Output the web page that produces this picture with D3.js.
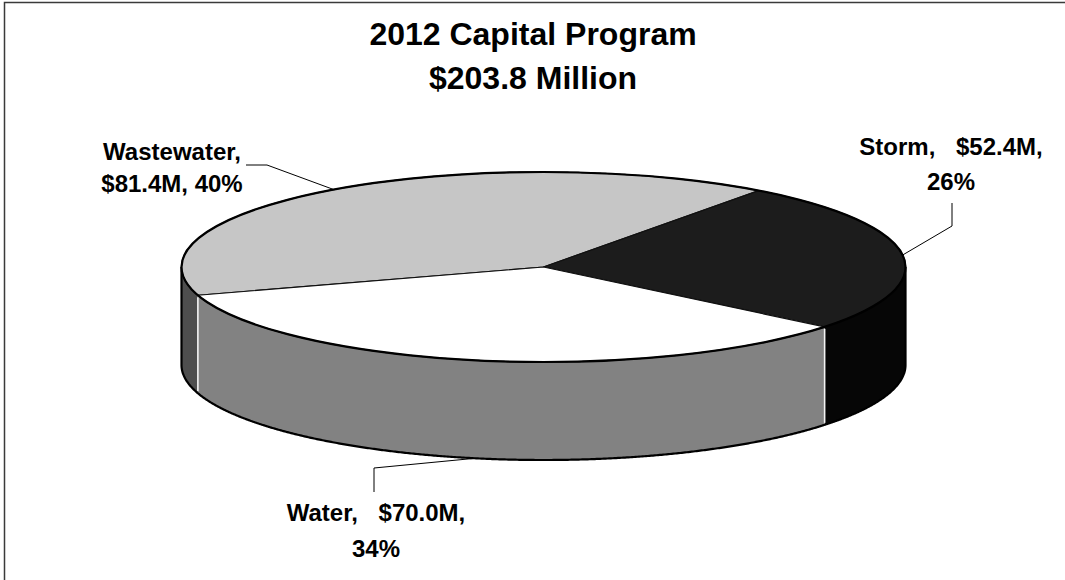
<!DOCTYPE html>
<html>
<head>
<meta charset="utf-8">
<script src="https://cdn.jsdelivr.net/npm/d3@7"></script>
<style>
  html, body { margin: 0; padding: 0; background: #fff; }
  svg { display: block; }
  text { font-family: "Liberation Sans", Arial, sans-serif; font-weight: bold; fill: #000; }
</style>
</head>
<body>
<svg id="chart" width="1065" height="580"></svg>
<script>
// Chart content
const titleLines = ["2012 Capital Program", "$203.8 Million"];
const categories = ["Wastewater", "Storm", "Water"];
const values = [81.4, 52.4, 70.0];            // $ millions
const topColors = ["#c6c6c6", "#1c1c1c", "#ffffff"];
const sideColors = ["#4e4e4e", "#060606", "#828282"];

// Label placement: where each label block sits, where its text breaks,
// and the bend of its leader line (the leader ends on the slice mid-angle).
const labelLayout = {
  Wastewater: { x: 172, y: 160, gap: 32, breakAfter: 0, wide: false, leader: [[246, 165], [267, 165]], edge: "top" },
  Storm:      { x: 951, y: 155, gap: 35, breakAfter: 1, wide: true,  leader: [[952, 203], [952, 226]], edge: "top" },
  Water:      { x: 376, y: 521, gap: 36, breakAfter: 1, wide: true,  leader: [[374, 492], [374, 468]], edge: "bottom" }
};

const W = 1065, H = 580;
const cx = 543.5, cy = 267, rx = 362, ry = 95, depth = 98;
const rotation = -107.3 * Math.PI / 180;

const svg = d3.select("#chart");

// frame
svg.append("path")
  .attr("d", `M4.5,${H} V2.5 H${W}`)
  .attr("fill", "none").attr("stroke", "#3a3a3a").attr("stroke-width", 1.5);

// title
svg.append("g").selectAll("text").data(titleLines).join("text")
  .attr("x", 533).attr("y", (d, i) => 45 + i * 44)
  .attr("text-anchor", "middle").attr("font-size", 32)
  .text(d => d);

const pie = d3.pie().sort(null).value(d => d)
  .startAngle(rotation).endAngle(rotation + 2 * Math.PI);
const arcs = pie(values);
const total = d3.sum(values);

// projected point on the tilted disc; angle 0 = 12 o'clock, clockwise
const px = a => cx + rx * Math.sin(a);
const py = (a, dz = 0) => cy - ry * Math.cos(a) + dz;
const samples = (a0, a1) => {
  const n = Math.max(2, Math.ceil(Math.abs(a1 - a0) / 0.005));
  return d3.range(n + 1).map(i => a0 + (a1 - a0) * i / n);
};
const line = d3.line();

// part of a slice's rim that faces the viewer (front half of the disc)
function frontPart(s, e) {
  for (let k = -1; k <= 1; k++) {
    const lo = Math.max(s, Math.PI / 2 + 2 * Math.PI * k);
    const hi = Math.min(e, 3 * Math.PI / 2 + 2 * Math.PI * k);
    if (hi > lo) return [lo, hi];
  }
  return null;
}

const gSides = svg.append("g");
arcs.forEach((d, i) => {
  const part = frontPart(d.startAngle, d.endAngle);
  if (!part) return;
  const upper = samples(part[0], part[1]).map(a => [px(a), py(a)]);
  const lower = samples(part[1], part[0]).map(a => [px(a), py(a, depth)]);
  gSides.append("path")
    .attr("d", line(upper.concat(lower)) + "Z")
    .attr("fill", sideColors[i]);
});

// light seams where slices meet on the rim
arcs.forEach(d => {
  const a = d.startAngle;
  const inFront = frontPart(a - 1e-6, a + 1e-6);
  if (!inFront) return;
  gSides.append("line")
    .attr("x1", px(a)).attr("y1", py(a) + 2)
    .attr("x2", px(a)).attr("y2", py(a, depth) - 2)
    .attr("stroke", "#f4f4f4").attr("stroke-width", 1.6);
});

// outer outline of the rim
const rimBottom = samples(Math.PI / 2, 3 * Math.PI / 2).map(a => [px(a), py(a, depth)]);
svg.append("path")
  .attr("d", `M${px(Math.PI / 2)},${py(Math.PI / 2)}` + line(rimBottom).replace(/^M/, "L") +
             `L${px(3 * Math.PI / 2)},${py(3 * Math.PI / 2)}`)
  .attr("fill", "none").attr("stroke", "#000").attr("stroke-width", 2.2);

// top faces
const gTop = svg.append("g");
arcs.forEach((d, i) => {
  const pts = [[cx, cy]].concat(samples(d.startAngle, d.endAngle).map(a => [px(a), py(a)]));
  gTop.append("path")
    .attr("d", line(pts) + "Z")
    .attr("fill", topColors[i])
    .attr("stroke", "#111").attr("stroke-width", 1.2).attr("stroke-linejoin", "round");
});
svg.append("ellipse")
  .attr("cx", cx).attr("cy", cy).attr("rx", rx).attr("ry", ry)
  .attr("fill", "none").attr("stroke", "#000").attr("stroke-width", 2.2);

// data labels with leader lines
const money = v => "$" + d3.format(".1f")(v) + "M";
const pct = v => d3.format(".0%")(v / total);
const gLab = svg.append("g");
arcs.forEach((d, i) => {
  const name = categories[i];
  const L = labelLayout[name];
  const parts = [name, money(values[i]), pct(values[i])];
  const lines = [
    parts.slice(0, L.breakAfter + 1).join(", ") + ",",
    parts.slice(L.breakAfter + 1).join(", ")
  ];
  lines.forEach((t, j) => {
    gLab.append("text")
      .attr("x", L.x).attr("y", L.y + j * L.gap)
      .attr("text-anchor", "middle").attr("font-size", 24)
      .style("word-spacing", (L.wide && j === 0) ? "14px" : "0px")
      .text(t);
  });
  const mid = (d.startAngle + d.endAngle) / 2;
  const end = [px(mid), py(mid, L.edge === "bottom" ? depth : 0)];
  gLab.append("path")
    .attr("d", line(L.leader.concat([end])))
    .attr("fill", "none").attr("stroke", "#000").attr("stroke-width", 1);
});
</script>
</body>
</html>
